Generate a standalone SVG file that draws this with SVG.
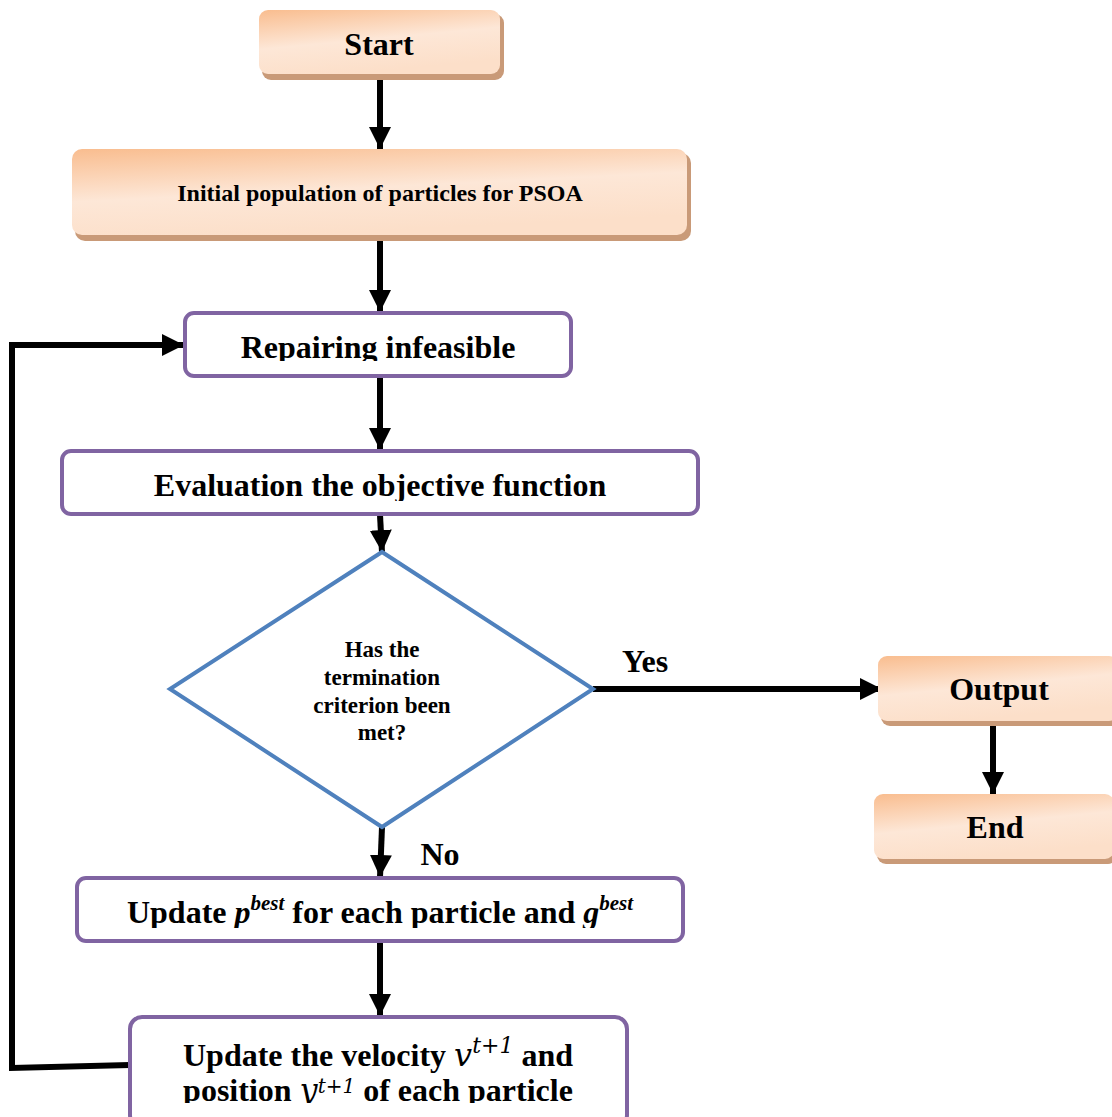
<svg xmlns="http://www.w3.org/2000/svg" width="1112" height="1117" viewBox="0 0 1112 1117">
<style>
.t{font-family:"Liberation Serif","Times New Roman",serif;font-weight:bold;fill:#000}
.big{font-size:32px}
.mid{font-size:24px}
.sm{font-size:23px}
.pur{fill:#fff;stroke:#8064A2;stroke-width:4}
.org{fill:url(#og)}
.shd{fill:#C99A78}
.ln{stroke:#000;stroke-width:6;fill:none}
.it{font-style:italic}
.math{font-family:"DejaVu Serif","Liberation Serif",serif;font-weight:normal;font-style:italic}
</style>
<defs>
<linearGradient id="og" x1="0" y1="0" x2="0.35" y2="1">
<stop offset="0" stop-color="#F9BD8F"/>
<stop offset="0.55" stop-color="#FDE7D7"/>
<stop offset="1" stop-color="#FCDFC9"/>
</linearGradient>
<marker id="ah" markerUnits="userSpaceOnUse" markerWidth="24" markerHeight="24" viewBox="0 0 24 24" refX="22" refY="12" orient="auto">
<path d="M0,1 L22,12 L0,23 Z" fill="#000"/>
</marker>
<clipPath id="c1"><rect x="180" y="310" width="400" height="51"/></clipPath>
<clipPath id="c2"><rect x="60" y="448" width="640" height="53"/></clipPath>
<clipPath id="c3"><rect x="76" y="875" width="610" height="53"/></clipPath>
<clipPath id="c4"><rect x="128" y="1014" width="502" height="89"/></clipPath>
</defs>

<g id="connectors">
<line class="ln" x1="380" y1="78" x2="380" y2="149" marker-end="url(#ah)"/>
<line class="ln" x1="380" y1="240" x2="380" y2="312" marker-end="url(#ah)"/>
<line class="ln" x1="380" y1="377" x2="380" y2="450" marker-end="url(#ah)"/>
<line class="ln" x1="380" y1="515" x2="382" y2="552" marker-end="url(#ah)"/>
<line class="ln" x1="593" y1="689" x2="882" y2="689" marker-end="url(#ah)"/>
<line class="ln" x1="993" y1="722" x2="993" y2="794" marker-end="url(#ah)"/>
<line class="ln" x1="382" y1="827" x2="380" y2="877" marker-end="url(#ah)"/>
<line class="ln" x1="380" y1="942" x2="380" y2="1016" marker-end="url(#ah)"/>
<polyline class="ln" points="130,1065 12,1068 12,345 184,345" marker-end="url(#ah)"/>
</g>

<g id="start">
<rect class="shd" x="262" y="14" width="242" height="66" rx="9"/>
<rect class="org" x="259" y="10" width="241" height="64" rx="9"/>
<text class="t big" x="379" y="55" text-anchor="middle">Start</text>
</g>

<g id="init">
<rect class="shd" x="75" y="153" width="616" height="88" rx="10"/>
<rect class="org" x="72" y="149" width="615" height="86" rx="10"/>
<text class="t mid" x="380" y="201" text-anchor="middle">Initial population of particles for PSOA</text>
</g>

<g id="repair">
<rect class="pur" x="185" y="313" width="386" height="63" rx="9"/>
<text class="t big" x="378" y="358" text-anchor="middle" clip-path="url(#c1)">Repairing infeasible</text>
</g>

<g id="evaluate">
<rect class="pur" x="62" y="451" width="636" height="63" rx="9"/>
<text class="t big" x="380" y="496" text-anchor="middle" clip-path="url(#c2)">Evaluation the objective function</text>
</g>

<g id="decision">
<polygon points="382,552 593,689 382,827 170,689" fill="#fff" stroke="#4F81BD" stroke-width="4"/>
<text class="t sm" x="382" y="657" text-anchor="middle">Has the</text>
<text class="t sm" x="382" y="685" text-anchor="middle">termination</text>
<text class="t sm" x="382" y="713" text-anchor="middle">criterion been</text>
<text class="t sm" x="382" y="740" text-anchor="middle">met?</text>
</g>

<g id="labels">
<text class="t big" x="645" y="672" text-anchor="middle">Yes</text>
<text class="t big" x="440" y="865" text-anchor="middle">No</text>
</g>

<g id="output">
<rect class="shd" x="881" y="660" width="240" height="66" rx="9"/>
<rect class="org" x="878" y="656" width="240" height="65" rx="9"/>
<text class="t big" x="999" y="700" text-anchor="middle">Output</text>
</g>

<g id="end">
<rect class="shd" x="877" y="798" width="240" height="66" rx="9"/>
<rect class="org" x="874" y="794" width="240" height="65" rx="9"/>
<text class="t big" x="995" y="838" text-anchor="middle">End</text>
</g>

<g id="update-best">
<rect class="pur" x="77" y="878" width="606" height="63" rx="9"/>
<text class="t big" x="380" y="923" text-anchor="middle" clip-path="url(#c3)">Update <tspan class="it">p</tspan><tspan class="it" font-size="21" dy="-13">best</tspan><tspan dy="13"> for each particle and </tspan><tspan class="it">g</tspan><tspan class="it" font-size="21" dy="-13">best</tspan></text>
</g>

<g id="update-velocity">
<rect class="pur" x="130" y="1017" width="497" height="110" rx="12"/>
<text class="t big" text-anchor="middle" clip-path="url(#c4)"><tspan x="378" y="1066">Update the velocity <tspan class="math">v</tspan><tspan class="math" font-style="normal" font-size="22" dy="-13"><tspan font-style="italic">t</tspan>+1</tspan><tspan dy="13"> and</tspan></tspan><tspan x="378" y="1101">position <tspan class="math">y</tspan><tspan class="math" font-style="normal" font-size="20" dy="-8"><tspan font-style="italic">t</tspan>+1</tspan><tspan dy="8"> of each particle</tspan></tspan></text>
</g>
</svg>
